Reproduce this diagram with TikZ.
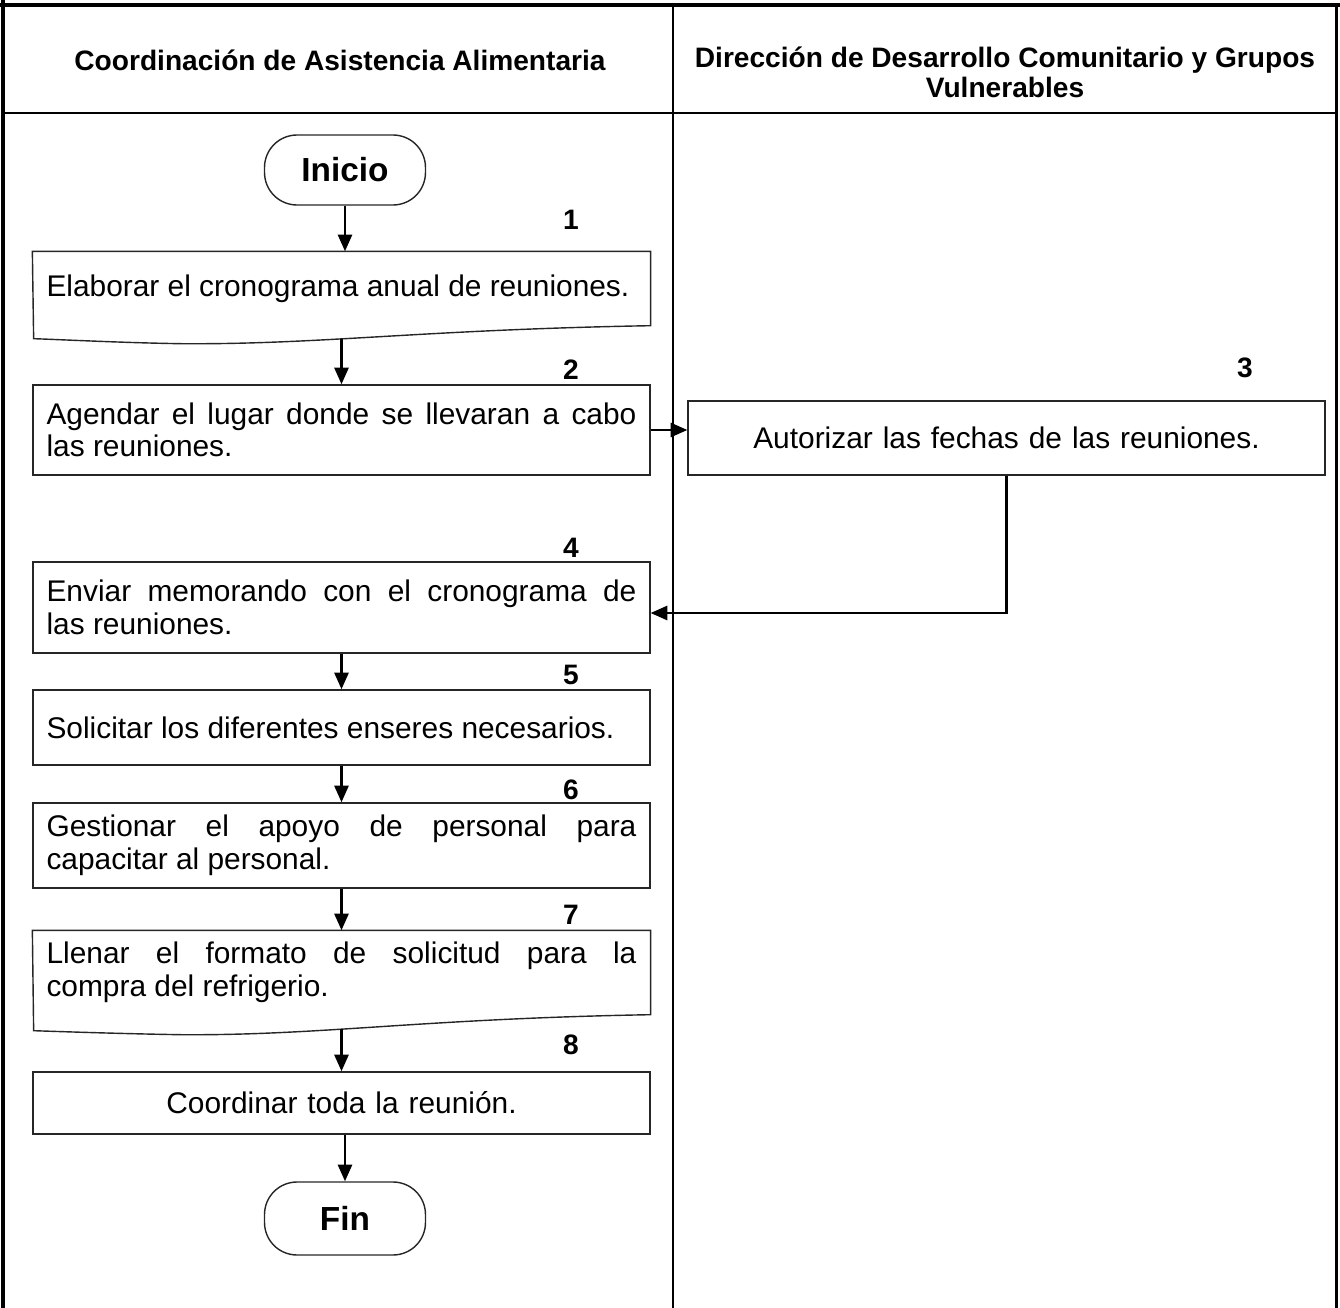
\documentclass[tikz,border=0pt]{standalone}
\usepackage{fontspec}
\setmainfont{Liberation Sans}
\usetikzlibrary{arrows.meta}
\begin{document}
\begin{tikzpicture}[x=0.02cm, y=-0.02cm,
	paso/.style={draw=black!85, line width=0.8pt, text width=11.8cm, inner xsep=0.27cm, align=justify, font=\fontsize{17}{18.5}\selectfont},
	doc/.style={paso, draw=none},
	term/.style={draw=black!85, line width=0.8pt, rounded corners=0.65cm, minimum width=3.22cm, font=\fontsize{19}{21}\selectfont\bfseries},
	num/.style={font=\fontsize{16}{18}\selectfont\bfseries},
	cab/.style={font=\fontsize{16}{17}\selectfont\bfseries, align=center},
	flecha/.style={line width=1.5pt, -{Triangle[length=9.5pt, width=8pt]}}]
	\useasboundingbox (0,0) rectangle (1340,1308);
	% marco y carriles
	\draw[line width=2.3pt] (0,5) -- (1340,5);
	\draw[line width=2.8pt] (3,0) -- (3,1308);
	\draw[line width=1.7pt] (1336,5) -- (1336,1308);
	\draw[line width=1.1pt] (3,113) -- (1336,113);
	\draw[line width=1.1pt] (673,5) -- (673,1308);
	\node[cab] (cab1) at (340,60) {Coordinación de Asistencia Alimentaria};
	\node[cab] (cab2) at (1005,72) {Dirección de Desarrollo Comunitario y Grupos\\Vulnerables};
	% pasos
	\node[term, minimum height=1.4cm] (inicio) at (345,170) {Inicio};
	\node[doc, minimum height=1.46cm] (b1) at (341.5,288.5) {Elaborar el cronograma anual de reuniones.};
	\draw[draw=black!85, line width=0.8pt] (b1.north west) -- (b1.north east) -- (b1.south east) .. controls +(-230,4) and +(140,1) .. ++(-470,18) .. controls +(-60,-1) and +(30,1) .. ++(-147,-5) -- cycle;
	\coordinate (b1w) at ([yshift=-0.26cm]b1.south);
	\node[paso, minimum height=1.8cm] (b2) at (341.5,430) {Agendar el lugar donde se llevaran a cabo\linebreak las reuniones.};
	\node[paso, align=center, text width=12.2cm, minimum height=1.48cm] (b3) at (1006.5,438) {Autorizar las fechas de las reuniones.};
	\node[paso, minimum height=1.82cm] (b4) at (341.5,607.5) {Enviar memorando con el cronograma de\linebreak las reuniones.};
	\node[paso, minimum height=1.5cm] (b5) at (341.5,727.5) {Solicitar los diferentes enseres necesarios.};
	\node[paso, minimum height=1.7cm] (b6) at (341.5,845.5) {Gestionar el apoyo de personal para\linebreak capacitar al personal.};
	\node[doc, minimum height=1.66cm] (b7) at (341.5,972.5) {Llenar el formato de solicitud para la\linebreak compra del refrigerio.};
	\draw[draw=black!85, line width=0.8pt] (b7.north west) -- (b7.north east) -- (b7.south east) .. controls +(-230,4) and +(140,1) .. ++(-470,20) .. controls +(-60,-1) and +(30,1) .. ++(-147,-4) -- cycle;
	\coordinate (b7w) at ([yshift=-0.28cm]b7.south);
	\node[paso, align=center, minimum height=1.24cm] (b8) at (341.5,1103) {Coordinar toda la reunión.};
	\node[term, minimum height=1.46cm] (fin) at (345,1218.5) {Fin};
	% numeros
	\node[num] (n1) at (571,220) {1};
	\node[num] (n2) at (571,370) {2};
	\node[num] (n3) at (1245,368) {3};
	\node[num] (n4) at (571,548) {4};
	\node[num] (n5) at (571,675) {5};
	\node[num] (n6) at (571,790) {6};
	\node[num] (n7) at (571,915) {7};
	\node[num] (n8) at (571,1045) {8};
	% flechas
	\draw[flecha] (inicio.south) -- (inicio.south |- b1.north);
	\draw[flecha] (b1w) -- (b2.north);
	\draw[flecha] (b2.east) -- (b2.east -| b3.west);
	\draw[flecha] (b3.south) |- ([yshift=-0.11cm]b4.east);
	\draw[flecha] (b4) -- (b5);
	\draw[flecha] (b5) -- (b6);
	\draw[flecha] (b6) -- (b7);
	\draw[flecha] (b7w) -- (b8.north);
	\draw[flecha] (b8.south -| fin.north) -- (fin.north);
\end{tikzpicture}
\end{document}
